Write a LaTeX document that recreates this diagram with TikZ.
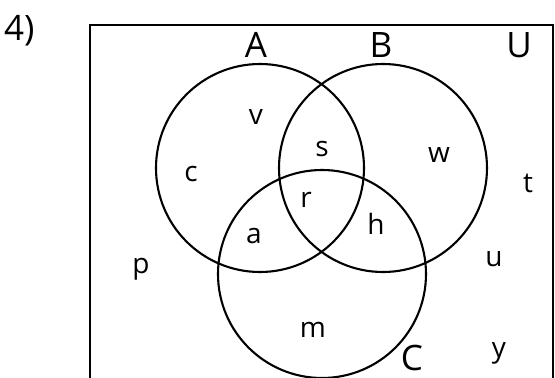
\documentclass[tikz,border=0pt]{standalone}
\usepackage{fontspec}
\setmainfont{Open Sans}
\begin{document}
\begin{tikzpicture}[
            x=1pt, y=-1pt,
            set/.style={circle, draw, line width=2.1pt, minimum size=208pt, inner sep=0pt},
            elem/.style={anchor=base, inner sep=0pt, font=\fontsize{28}{34}\selectfont},
            setname/.style={anchor=base, inner sep=0pt, font=\fontsize{35}{42}\selectfont}
            ]
            \useasboundingbox (0,0) rectangle (555,378);

            \node[setname, anchor=base west] (q) at (4,40.5) {4)};

            \coordinate (u1) at (90,378);
            \coordinate (u2) at (90,25);
            \coordinate (u3) at (553,25);
            \coordinate (u4) at (553,378);
            \draw[line width=2.4pt] (u1)--(u2)--(u3)--(u4);

            \node[set] (A) at (260,168) {};
            \node[set] (B) at (383,168) {};
            \node[set] (C) at (322,274) {};

            \node[setname] (la) at (256,57) {A};
            \node[setname] (lb) at (381,57) {B};
            \node[setname] (lu) at (519,57) {U};
            \node[setname] (lc) at (412,370) {C};

            \node[elem] (v) at (256,124) {v};
            \node[elem] (s) at (322,156) {s};
            \node[elem] (w) at (439,162) {w};
            \node[elem] (c) at (191,181) {c};
            \node[elem] (t) at (528,192) {t};
            \node[elem] (r) at (306,207) {r};
            \node[elem] (h) at (376,234) {h};
            \node[elem] (a) at (254,243) {a};
            \node[elem] (u) at (494,266) {u};
            \node[elem] (p) at (141,273) {p};
            \node[elem] (m) at (313,337) {m};
            \node[elem] (y) at (499,357) {y};

            \end{tikzpicture}
\end{document}
